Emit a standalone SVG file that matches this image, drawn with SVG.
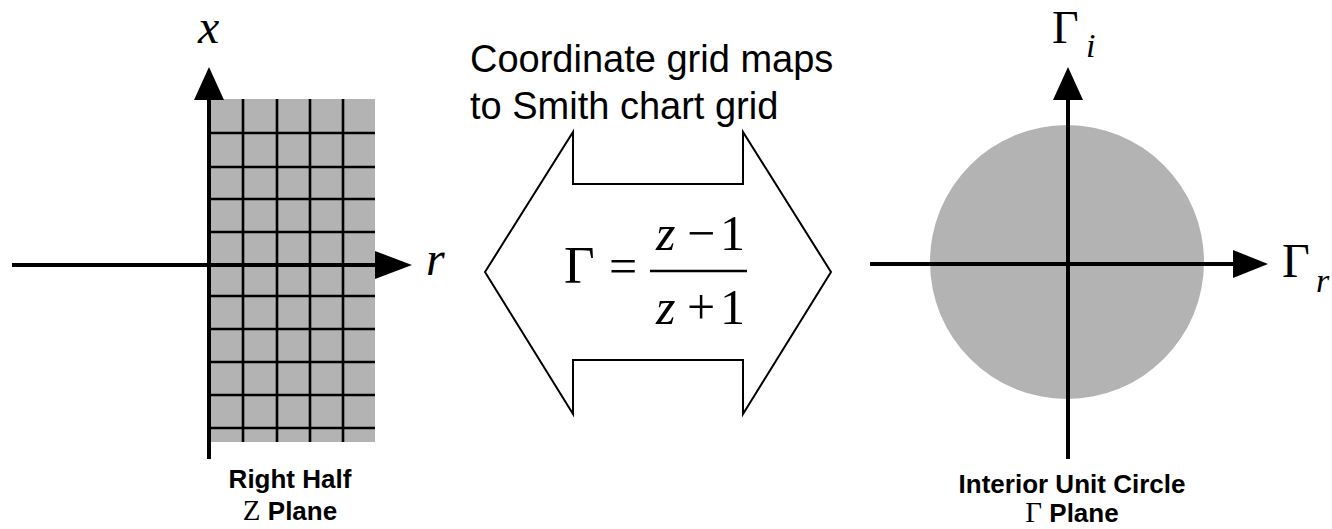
<svg xmlns="http://www.w3.org/2000/svg" width="1332" height="529" viewBox="0 0 1332 529">
<style>
.axis{stroke:#000;stroke-width:4;fill:none}
.grid{stroke:#000;stroke-width:2.6;fill:none}
.head{fill:#000}
.shade{fill:#b3b3b3}
.math{font-family:"Liberation Serif",serif;fill:#000}
.it{font-style:italic}
.cap{font-family:"Liberation Sans",Arial,sans-serif;font-weight:bold;font-size:26px;fill:#000;text-anchor:middle}
.serifcap{font-family:"Liberation Serif",serif;font-weight:normal;font-size:29px}
.title{font-family:"Liberation Sans",Arial,sans-serif;font-size:38px;fill:#000}
</style>
<rect width="1332" height="529" fill="#fff"/>
<g id="z-plane">
<rect class="shade" x="209" y="99" width="166" height="343"/>
<g class="grid">
<line x1="243" y1="99" x2="243" y2="442"/>
<line x1="277" y1="99" x2="277" y2="442"/>
<line x1="310" y1="99" x2="310" y2="442"/>
<line x1="343" y1="99" x2="343" y2="442"/>
<line x1="209" y1="133" x2="375" y2="133"/>
<line x1="209" y1="167" x2="375" y2="167"/>
<line x1="209" y1="199" x2="375" y2="199"/>
<line x1="209" y1="232" x2="375" y2="232"/>
<line x1="209" y1="296" x2="375" y2="296"/>
<line x1="209" y1="329" x2="375" y2="329"/>
<line x1="209" y1="362" x2="375" y2="362"/>
<line x1="209" y1="395" x2="375" y2="395"/>
<line x1="209" y1="428" x2="375" y2="428"/>
</g>
<line class="axis" x1="12" y1="265" x2="380" y2="265"/>
<line class="axis" x1="209" y1="459" x2="209" y2="95"/>
<polygon class="head" points="209,67 224,100 194,100"/>
<polygon class="head" points="412,265 375,251 375,279"/>
<text class="math it" x="198" y="43" font-size="48">x</text>
<text class="math it" x="426" y="275" font-size="48">r</text>
<text class="cap" x="290" y="488">Right Half</text>
<text class="cap" x="290" y="520"><tspan class="serifcap">Z</tspan> Plane</text>
</g>
<g id="mapping">
<text class="title" x="470" y="72">Coordinate grid maps</text>
<text class="title" x="470" y="119">to Smith chart grid</text>
<polygon points="485,272 573,132 573,184 743,184 743,132 831,272 743,414 743,360 573,360 573,414" fill="#fff" stroke="#000" stroke-width="2"/>
<text class="math" x="564" y="283" font-size="53">Γ</text>
<text class="math" x="609" y="283" font-size="50">=</text>
<line x1="650" y1="271" x2="747" y2="271" stroke="#000" stroke-width="2.5"/>
<text class="math it" x="656" y="250" font-size="50">z</text>
<text class="math" x="687" y="250" font-size="50">−</text>
<text class="math" x="720" y="250" font-size="50">1</text>
<text class="math it" x="656" y="324" font-size="50">z</text>
<text class="math" x="687" y="324" font-size="50">+</text>
<text class="math" x="720" y="324" font-size="50">1</text>
</g>
<g id="gamma-plane">
<circle class="shade" cx="1067" cy="262" r="137"/>
<line class="axis" x1="870" y1="264" x2="1240" y2="264"/>
<line class="axis" x1="1068" y1="459" x2="1068" y2="95"/>
<polygon class="head" points="1068,67 1083,100 1053,100"/>
<polygon class="head" points="1268,264 1233,250 1233,278"/>
<text class="math" x="1052" y="43" font-size="46">Γ</text>
<text class="math it" x="1086" y="57" font-size="34">i</text>
<text class="math" x="1282" y="277" font-size="48">Γ</text>
<text class="math it" x="1316" y="292" font-size="34">r</text>
<text class="cap" x="1072" y="493">Interior Unit Circle</text>
<text class="cap" x="1072" y="522"><tspan class="serifcap">Γ</tspan> Plane</text>
</g>
</svg>
